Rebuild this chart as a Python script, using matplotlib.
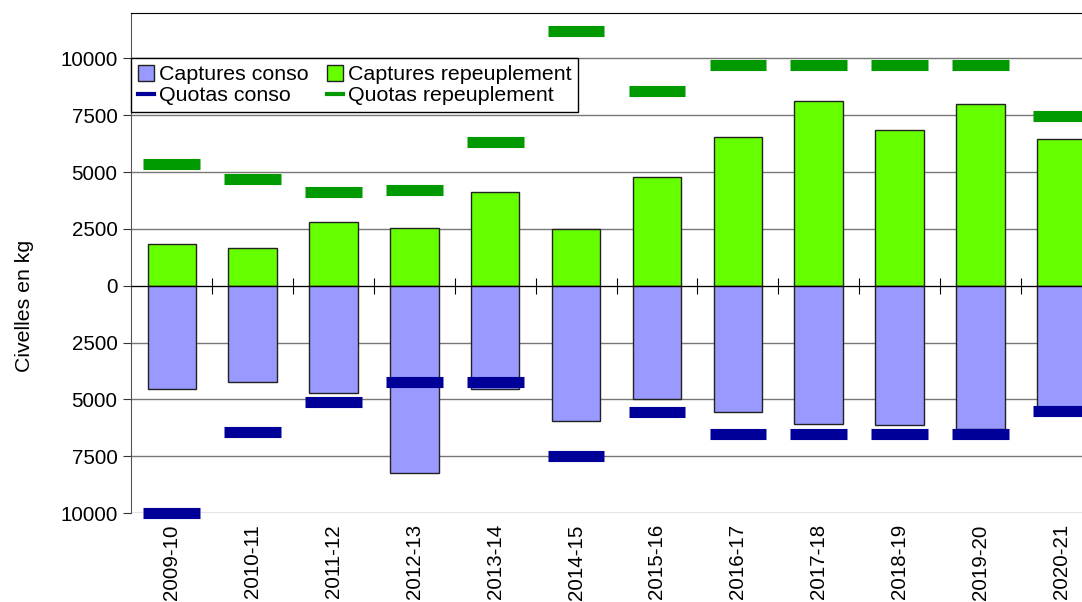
import matplotlib
matplotlib.use('Agg')
import matplotlib.pyplot as plt
import matplotlib.ticker as ticker
from matplotlib.lines import Line2D
from matplotlib.patches import Patch
import numpy as np

plt.rcParams['font.family'] = ['Liberation Sans', 'DejaVu Sans']

saisons = ['2009-10', '2010-11', '2011-12', '2012-13', '2013-14', '2014-15',
           '2015-16', '2016-17', '2017-18', '2018-19', '2019-20', '2020-21']
# captures en kg (conso comptée en négatif)
captures_conso = [-4550, -4250, -4740, -8220, -4560, -5950,
                  -4970, -5560, -6080, -6140, -6300, -5400]
captures_repeuplement = [1850, 1650, 2790, 2560, 4140, 2510,
                         4790, 6540, 8140, 6840, 8010, 6450]
quotas_conso = [-10000, -6420, -5100, -4250, -4250, -7510,
                -5550, -6510, -6510, -6510, -6510, -5500]
quotas_repeuplement = [5340, 4700, 4140, 4220, 6340, 11190,
                       8570, 9700, 9700, 9700, 9700, 7480]

c_conso = '#9999ff'
c_repeup = '#66ff00'
c_qconso = '#000099'
c_qrepeup = '#009900'

fig = plt.figure(figsize=(10.82, 6.02), dpi=100)
ax = fig.add_axes([0.1214, 0.1478, 0.8968, 0.8306])

x = np.arange(len(saisons))
ax.bar(x, captures_repeuplement, width=0.6, color=c_repeup, edgecolor='#222222', linewidth=1, zorder=3)
ax.bar(x, captures_conso, width=0.6, color=c_conso, edgecolor='#222222', linewidth=1, zorder=3)
ax.hlines(quotas_conso, x - 0.35, x + 0.35, color=c_qconso, linewidth=8, zorder=4, clip_on=False)
ax.hlines(quotas_repeuplement, x - 0.35, x + 0.35, color=c_qrepeup, linewidth=8, zorder=4, clip_on=False)

ax.set_xlim(-0.5, len(saisons) - 0.5)
ax.set_ylim(-10000, 12000)

# axe des y : valeurs absolues
ax.yaxis.set_major_locator(ticker.FixedLocator(np.arange(-10000, 10001, 2500)))
ax.yaxis.set_major_formatter(ticker.FuncFormatter(lambda v, p: f'{abs(int(v))}'))
ax.tick_params(axis='y', direction='out', length=6, color='#333333', labelsize=14.8, pad=4)
ax.set_ylabel('Civelles en kg', fontsize=15.3)
ax.yaxis.set_label_coords(-0.1, 0.414)
ax.grid(axis='y', color='#777777', linewidth=1, zorder=0)

# ligne du zéro avec graduations entre les saisons
ax.spines['bottom'].set_position(('data', 0))
ax.spines['bottom'].set_color('black')
ax.spines['bottom'].set_zorder(5)
ax.set_xticks(x[:-1] + 0.5)
ax.set_xticklabels([])
ax.tick_params(axis='x', direction='inout', length=12, color='black')

# libellés des saisons en bas
sec = ax.secondary_xaxis(0.0)
sec.set_xticks(x)
sec.set_xticklabels(saisons, rotation=90, fontsize=14.8)
sec.tick_params(length=0, pad=8)
sec.spines['bottom'].set_visible(False)

ax.spines['top'].set_color('black')
ax.spines['left'].set_color('#555555')
ax.spines['right'].set_visible(False)

handles = [Patch(facecolor=c_conso, edgecolor='#222222'),
           Line2D([], [], color=c_qconso, linewidth=3),
           Patch(facecolor=c_repeup, edgecolor='#222222'),
           Line2D([], [], color=c_qrepeup, linewidth=3)]
labels = ['Captures conso', 'Quotas conso', 'Captures repeuplement', 'Quotas repeuplement']
leg = ax.legend(handles, labels, ncol=2, loc='upper left', bbox_to_anchor=(0, 20000 / 22000),
                borderaxespad=0, fontsize=15.4, handlelength=0.75, handleheight=0.75,
                handletextpad=0.25, columnspacing=0.85, labelspacing=0.08,
                borderpad=0.3, fancybox=False, framealpha=1)
leg.get_frame().set_edgecolor('black')
leg.get_frame().set_linewidth(1)
leg.set_zorder(6)

fig.savefig('out.png', dpi=100)
